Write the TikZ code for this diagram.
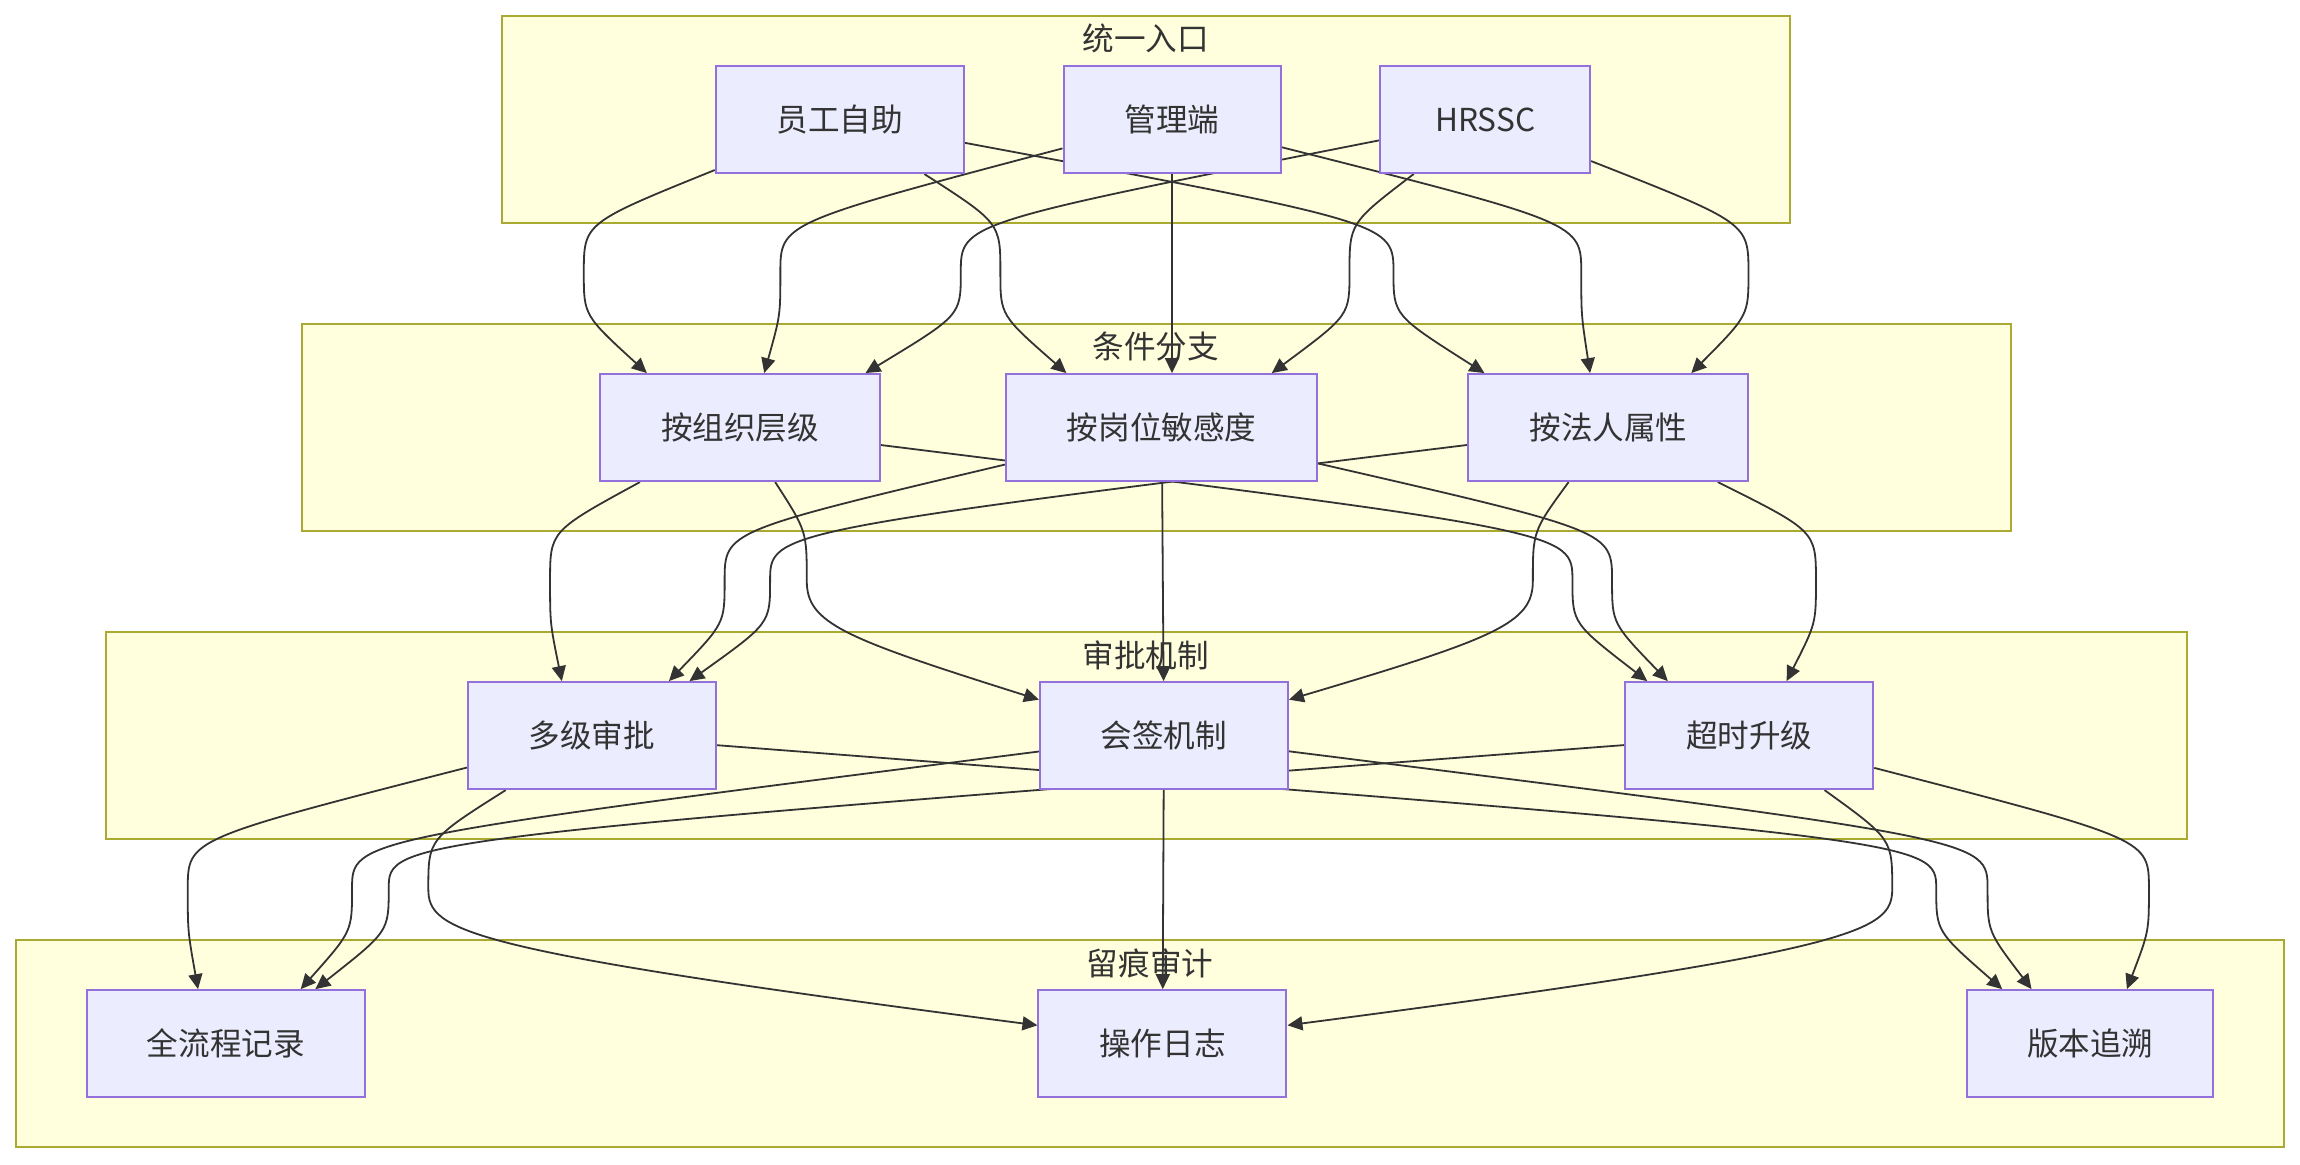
\documentclass[tikz,border=0pt]{standalone}
\usepackage{fontspec}
\newfontfamily\cjk{Noto Sans CJK SC}
\usetikzlibrary{arrows.meta,calc}
\definecolor{grpfill}{HTML}{FFFFDE}
\definecolor{grpline}{HTML}{AAAA33}
\definecolor{boxfill}{HTML}{ECECFF}
\definecolor{boxline}{HTML}{9370DB}
\definecolor{ink}{HTML}{333333}
\pgfdeclarelayer{back}
\pgfdeclarelayer{lines}
\pgfsetlayers{back,lines,main}

\begin{document}
\begin{tikzpicture}[x=0.7334pt,y=-0.7334pt,
  box/.style={draw=boxline,fill=boxfill,line width=1pt,minimum height=53.5pt,inner sep=0pt,text=ink,font=\cjk\fontsize{15.8}{19}\selectfont},
  grp/.style={draw=grpline,fill=grpfill,line width=1pt},
  grplabel/.style={text=ink,font=\cjk\fontsize{15.8}{19}\selectfont},
  edge/.style={draw=ink,line width=0.9pt,-{Triangle[length=7.5pt,width=7pt]}}]
\useasboundingbox (0,0) rectangle (1568,794);

\begin{pgfonlayer}{back}
\fill[white] (0,0) rectangle (1568,794);
\draw[grp] (342,11) rectangle (1220,152);
\draw[grp] (206,221) rectangle (1371,362);
\draw[grp] (72,431) rectangle (1491,572);
\draw[grp] (11,641) rectangle (1557,782);
\node[grplabel] (entrylab) at (781,26) {统一入口};
\node[grplabel] (branchlab) at (788,236) {条件分支};
\node[grplabel] (approvlab) at (781,447) {审批机制};
\node[grplabel] (auditlab) at (784,657) {留痕审计};
\end{pgfonlayer}

% entries
\node[box,minimum width=124pt] (yg) at (572.5,81.5) {员工自助};
\node[box,minimum width=108.5pt] (gl) at (799,81.5) {管理端};
\node[box,minimum width=104.9pt] (hr) at (1012.5,81.5) {HRSSC};
% branches
\node[box,minimum width=140pt] (zz) at (504.5,291.5) {按组织层级};
\node[box,minimum width=155.5pt] (gw) at (792,291.5) {按岗位敏感度};
\node[box,minimum width=140pt] (fr) at (1096.5,291.5) {按法人属性};
% approval
\node[box,minimum width=124pt] (dj) at (403.5,501.5) {多级审批};
\node[box,minimum width=124pt] (hq) at (793.5,501.5) {会签机制};
\node[box,minimum width=124pt] (cs) at (1192.5,501.5) {超时升级};
% audit
\node[box,minimum width=139.3pt] (qlc) at (154,711.5) {全流程记录};
\node[box,minimum width=124pt] (czr) at (792.5,711.5) {操作日志};
\node[box,minimum width=123.2pt] (bb) at (1425,711.5) {版本追溯};

\begin{pgfonlayer}{lines}
% entries -> branches
\draw[edge] (yg) .. controls (398,152) and (398,152) .. (398,186) .. controls (398,215) and (398,215) .. ($(zz.north)+(-63.5,0)$);
\draw[edge] (yg) .. controls (682,152) and (682,152) .. (682,186) .. controls (682,215) and (682,215) .. ($(gw.north)+(-65,0)$);
\draw[edge] (yg) .. controls (950,152) and (950,152) .. (950,186) .. controls (950,215) and (950,215) .. ($(fr.north)+(-84.5,0)$);
\draw[edge] (gl) .. controls (532,152) and (532,152) .. (532,186) .. controls (532,215) and (532,215) .. ($(zz.north)+(16.5,0)$);
\draw[edge] (gl) -- ($(gw.north)+(7,0)$);
\draw[edge] (gl) .. controls (1078,152) and (1078,152) .. (1078,186) .. controls (1078,215) and (1078,215) .. ($(fr.north)+(-12.5,0)$);
\draw[edge] (hr) .. controls (655,152) and (655,152) .. (655,186) .. controls (655,215) and (655,215) .. ($(zz.north)+(85.5,0)$);
\draw[edge] (hr) .. controls (920,152) and (920,152) .. (920,186) .. controls (920,215) and (920,215) .. ($(gw.north)+(75,0)$);
\draw[edge] (hr) .. controls (1192,152) and (1192,152) .. (1192,186) .. controls (1192,215) and (1192,215) .. ($(fr.north)+(56.5,0)$);
% branches -> approval
\draw[edge] (zz) .. controls (375,362) and (375,362) .. (375,396) .. controls (375,425) and (375,425) .. ($(dj.north)+(-20.5,0)$);
\draw[edge] (zz) .. controls (550,362) and (550,362) .. (550,396) .. controls (550,425) and (575,435) .. ($(hq.west)+(0,-24.5)$);
\draw[edge] (zz) .. controls (1072,362) and (1072,362) .. (1072,396) .. controls (1072,425) and (1072,425) .. ($(cs.north)+(-69.5,0)$);
\draw[edge] (gw) .. controls (494,362) and (494,362) .. (494,396) .. controls (494,425) and (494,425) .. ($(dj.north)+(52.5,0)$);
\draw[edge] (gw) -- (hq);
\draw[edge] (gw) .. controls (1099,362) and (1099,362) .. (1099,396) .. controls (1099,425) and (1099,425) .. ($(cs.north)+(-55.5,0)$);
\draw[edge] (fr) .. controls (525,362) and (525,362) .. (525,396) .. controls (525,425) and (525,425) .. ($(dj.north)+(66.5,0)$);
\draw[edge] (fr) .. controls (1045,362) and (1045,362) .. (1045,396) .. controls (1045,425) and (1020,435) .. ($(hq.east)+(0,-24.5)$);
\draw[edge] (fr) .. controls (1238,362) and (1238,362) .. (1238,396) .. controls (1238,425) and (1238,425) .. ($(cs.north)+(25.5,0)$);
% approval -> audit
\draw[edge] (dj) .. controls (128,572) and (128,572) .. (128,606) .. controls (128,635) and (128,635) .. ($(qlc.north)+(-19,0)$);
\draw[edge] (hq) .. controls (240,572) and (240,572) .. (240,606) .. controls (240,635) and (240,635) .. ($(qlc.north)+(51,0)$);
\draw[edge] (cs) .. controls (265,572) and (265,572) .. (265,606) .. controls (265,635) and (265,635) .. ($(qlc.north)+(61,0)$);
\draw[edge] (dj) .. controls (292,572) and (292,572) .. (292,606) .. controls (292,635) and (315,648) .. ($(czr.west)+(0,-12.5)$);
\draw[edge] (hq) -- (czr);
\draw[edge] (cs) .. controls (1290,572) and (1290,572) .. (1290,606) .. controls (1290,635) and (1268,648) .. ($(czr.east)+(0,-12.5)$);
\draw[edge] (dj) .. controls (1320,572) and (1320,572) .. (1320,606) .. controls (1320,635) and (1320,635) .. ($(bb.north)+(-60,0)$);
\draw[edge] (hq) .. controls (1355,572) and (1355,572) .. (1355,606) .. controls (1355,635) and (1355,635) .. ($(bb.north)+(-40,0)$);
\draw[edge] (cs) .. controls (1465,572) and (1465,572) .. (1465,606) .. controls (1465,635) and (1465,635) .. ($(bb.north)+(25,0)$);
\end{pgfonlayer}
\end{tikzpicture}
\end{document}
